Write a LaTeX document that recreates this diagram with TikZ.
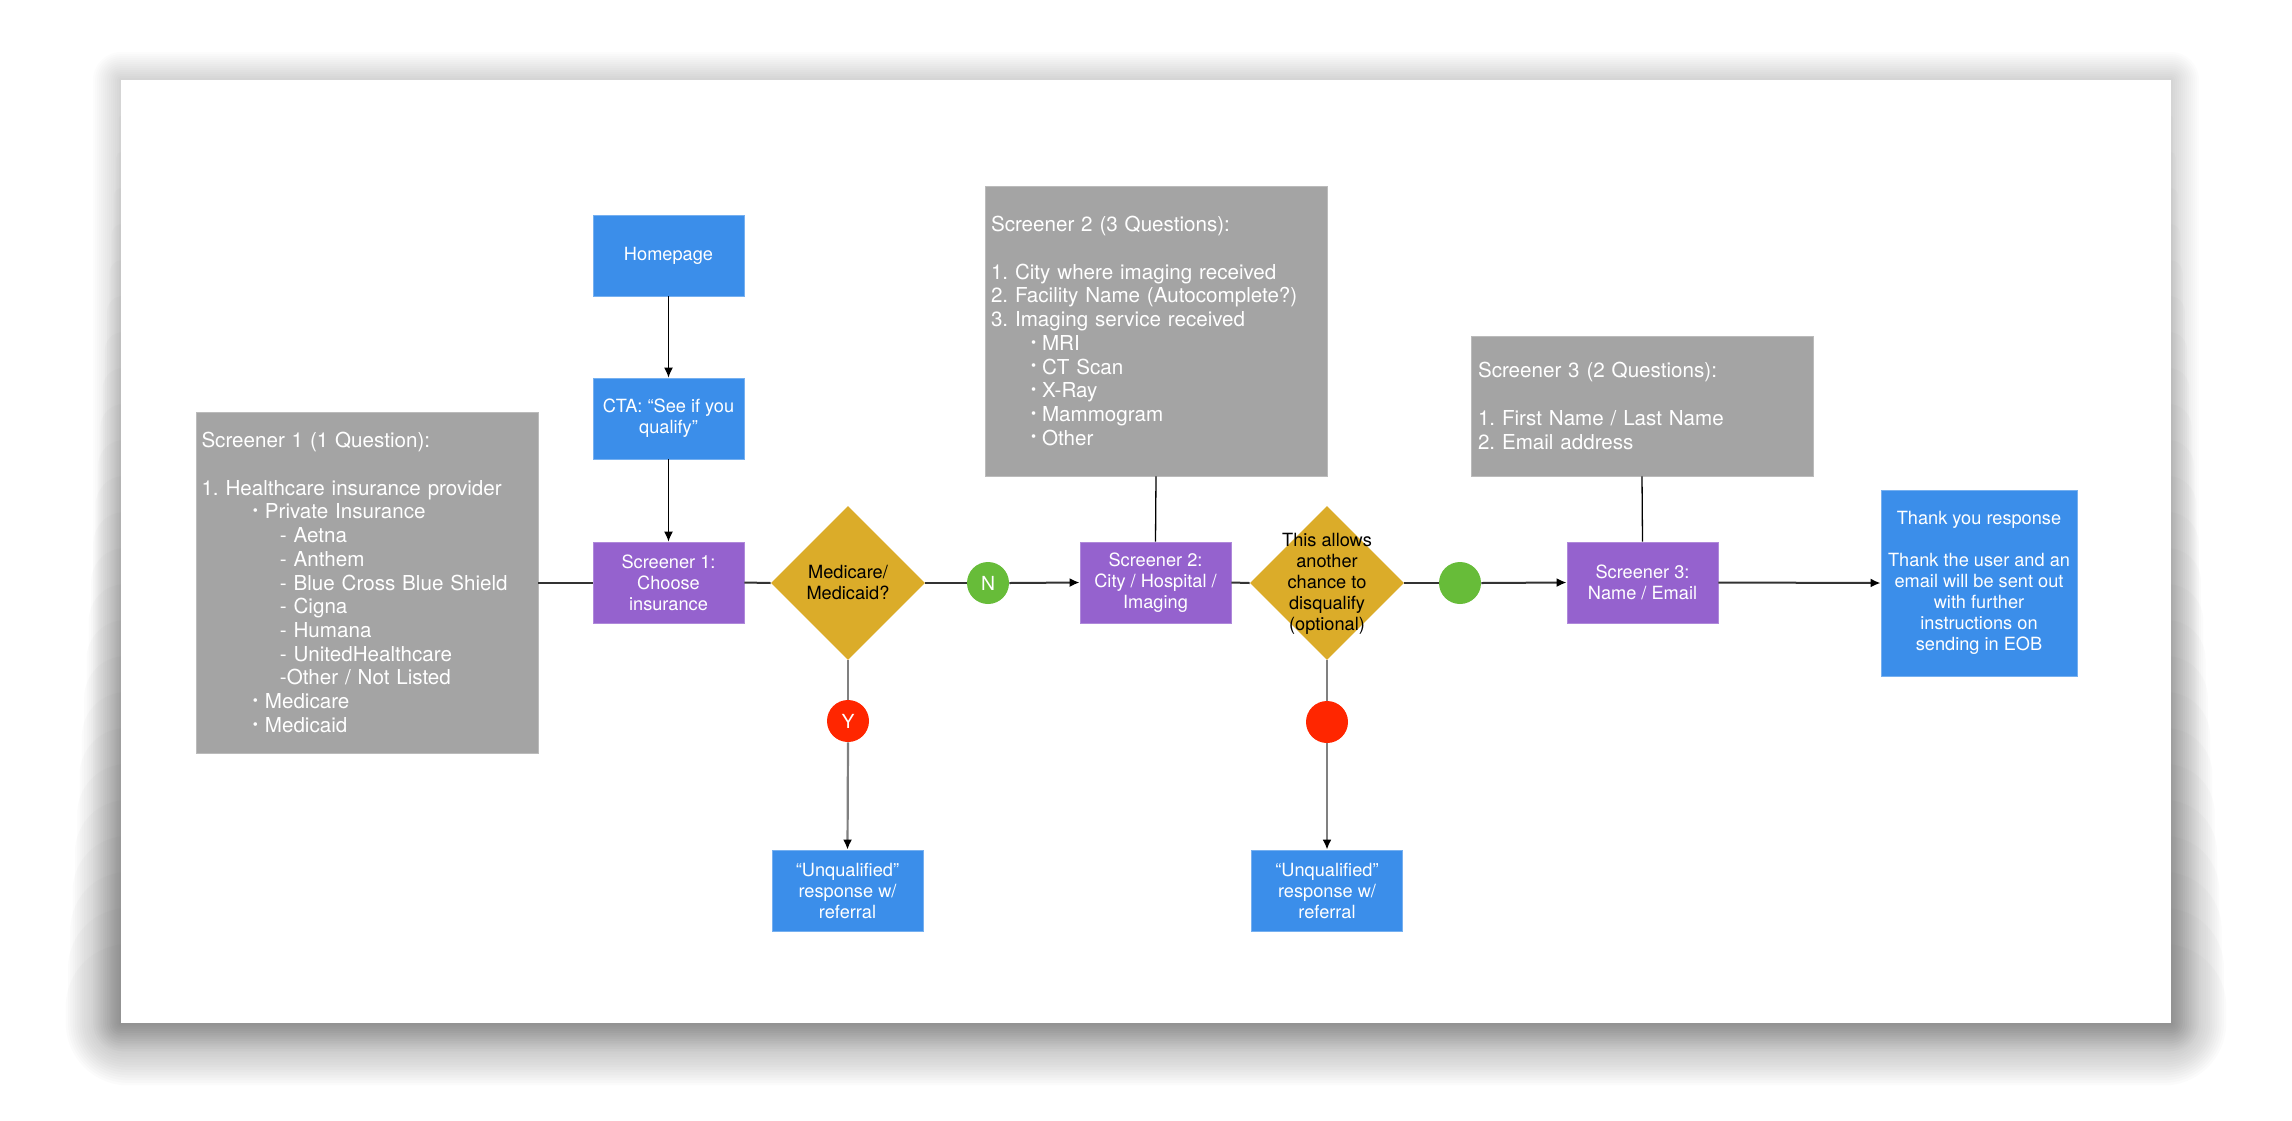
\documentclass[tikz,border=0pt]{standalone}
\usepackage{fontspec}
\usepackage{graphicx}
\setmainfont{TeX Gyre Heros}
\usetikzlibrary{arrows.meta,shapes.geometric}
\definecolor{cblue}{HTML}{3B8EEA}
\definecolor{cpurple}{HTML}{9562CE}
\definecolor{cgold}{HTML}{DBAC29}
\definecolor{cgray}{HTML}{A4A4A4}
\definecolor{cgreen}{HTML}{67BC39}
\definecolor{cred}{HTML}{FF2600}
\definecolor{cline}{HTML}{333333}
\definecolor{cvline}{HTML}{808080}
\newcommand\bul[1]{\makebox[#1][l]{\raisebox{0.3ex}{\scalebox{0.7}{•}}}}
\frenchspacing
\begin{document}
\begin{tikzpicture}[x=0.5pt,y=-0.5pt,
  box/.style={rectangle, minimum width=75.5pt, minimum height=40.5pt, inner sep=1pt, align=center, text=white, font=\fontsize{9.1}{10.5}\selectfont},
  bluebox/.style={box, fill=cblue, draw=cblue!70!white, line width=0.4pt},
  purplebox/.style={box, fill=cpurple, draw=cpurple!75!white, line width=0.4pt},
  graybox/.style={rectangle, fill=cgray, draw=cgray!75!white, line width=0.4pt, text=white, align=left, inner xsep=2.75pt, inner ysep=0pt, text width=165.5pt, font=\fontsize{10.3}{11.85}\selectfont},
  decision/.style={diamond, aspect=1, fill=cgold, minimum width=77pt, minimum height=77pt, inner sep=0pt},
  dtext/.style={align=center, font=\fontsize{9.1}{10.5}\selectfont, text=black, inner sep=0pt},
  dot/.style={circle, minimum size=21pt, inner sep=0pt, text=white, font=\fontsize{9.7}{10}\selectfont},
  conn/.style={draw=cline, line width=1pt},
  thinline/.style={draw=black, line width=0.65pt},
  gline/.style={draw=cvline, line width=1.1pt},
  arr/.style={-{Latex[length=5pt,width=4.5pt,color=black]}}
]
\useasboundingbox (0,0) rectangle (2292,1120);
% card shadow: light halo all round
\foreach \i in {1,...,14}{
  \pgfmathsetmacro\rr{1.0*\i}
  \fill[black, fill opacity=0.011, rounded corners=\rr pt] (121-2*\i, 80-2*\i) rectangle (2171+2*\i, 1023+2*\i);
}
% heavier shadow growing towards the bottom
\foreach \i in {1,...,24}{
  \pgfmathsetmacro\rr{1.3*\i}
  \fill[black, fill opacity=0.015, rounded corners=\rr pt] (121-2.3*\i, 80+36*\i) rectangle (2171+2.3*\i, 1023+2.6*\i);
}
\fill[white] (121,80) rectangle (2171,1023);

% nodes
\node[bluebox] (home) at (668.5,255.5) {Homepage};
\node[bluebox] (cta) at (668.5,418.5) {CTA: “See if you\\qualify”};
\node[purplebox] (s1) at (668.5,582.5) {Screener 1:\\Choose\\insurance};
\node[decision] (d1) at (848,583) {};
\node[dtext] (d1t) at (848,582) {Medicare/\\Medicaid?};
\node[dot, fill=cgreen] (n) at (988,583) {N};
\node[purplebox] (s2) at (1155.5,582.5) {Screener 2:\\City / Hospital /\\Imaging};
\node[dot, fill=cred] (y) at (848,721) {Y};
\node[bluebox] (u1) at (847.5,890.5) {“Unqualified”\\response w/\\referral};
\node[decision] (d2) at (1327,583) {};
\node[dtext] (d2t) at (1327,584) {This allows\\another\\chance to\\disqualify\\(optional)};
\node[dot, fill=cgreen] (g2) at (1460,583) {};
\node[dot, fill=cred] (r2) at (1327,722) {};
\node[bluebox] (u2) at (1327,890.5) {“Unqualified”\\response w/\\referral};
\node[purplebox] (s3) at (1642.5,582.5) {Screener 3:\\Name / Email};
\node[bluebox, minimum width=98pt, minimum height=93pt] (ty) at (1979,583) {Thank you response\\[10.5pt]Thank the user and an\\email will be sent out\\with further\\instructions on\\sending in EOB};

\node[graybox, minimum height=170.5pt] (g1box) at (367,582.5) {Screener 1 (1 Question):\\[11.85pt]
1. Healthcare insurance provider\\
\hspace*{25.7pt}\bul{6pt}Private Insurance\\
\hspace*{39.2pt}- Aetna\\
\hspace*{39.2pt}- Anthem\\
\hspace*{39.2pt}- Blue Cross Blue Shield\\
\hspace*{39.2pt}- Cigna\\
\hspace*{39.2pt}- Humana\\
\hspace*{39.2pt}- UnitedHealthcare\\
\hspace*{39.2pt}-Other / Not Listed\\
\hspace*{25.7pt}\bul{6pt}Medicare\\
\hspace*{25.7pt}\bul{6pt}Medicaid};

\node[graybox, inner xsep=3pt, text width=165pt, minimum height=145pt] (g2box) at (1156,331) {Screener 2 (3 Questions):\\[11.85pt]
1. City where imaging received\\
2. Facility Name (Autocomplete?)\\
3. Imaging service received\\
\hspace*{20pt}\bul{5.5pt}MRI\\
\hspace*{20pt}\bul{5.5pt}CT Scan\\
\hspace*{20pt}\bul{5.5pt}X-Ray\\
\hspace*{20pt}\bul{5.5pt}Mammogram\\
\hspace*{20pt}\bul{5.5pt}Other};

\node[graybox, inner xsep=3.5pt, text width=164pt, minimum height=70pt] (g3box) at (1642,406) {Screener 3 (2 Questions):\\[11.85pt]
1. First Name / Last Name\\
2. Email address};

% connectors
\draw[thinline, arr] (home) -- (cta);
\draw[thinline, arr] (cta) -- (s1);
\draw[conn] (g1box.east) -- (s1.west);
\draw[conn] (s1.east) -- (d1.west);
\draw[conn] (d1.east) -- (n.west);
\draw[conn, arr] (n.east) -- (s2.west);
\draw[thinline] (g2box.south) -- (s2.north);
\draw[conn] (s2.east) -- (d2.west);
\draw[conn] (d2.east) -- (g2.west);
\draw[conn, arr] (g2.east) -- (s3.west);
\draw[thinline] (g3box.south) -- (s3.north);
\draw[conn, arr] (s3.east) -- (ty.west);
\draw[gline] (d1.south) -- (y.north);
\draw[gline, arr] (y.south) -- (u1.north);
\draw[gline] (d2.south) -- (r2.north);
\draw[gline, arr] (r2.south) -- (u2.north);
\end{tikzpicture}
\end{document}
